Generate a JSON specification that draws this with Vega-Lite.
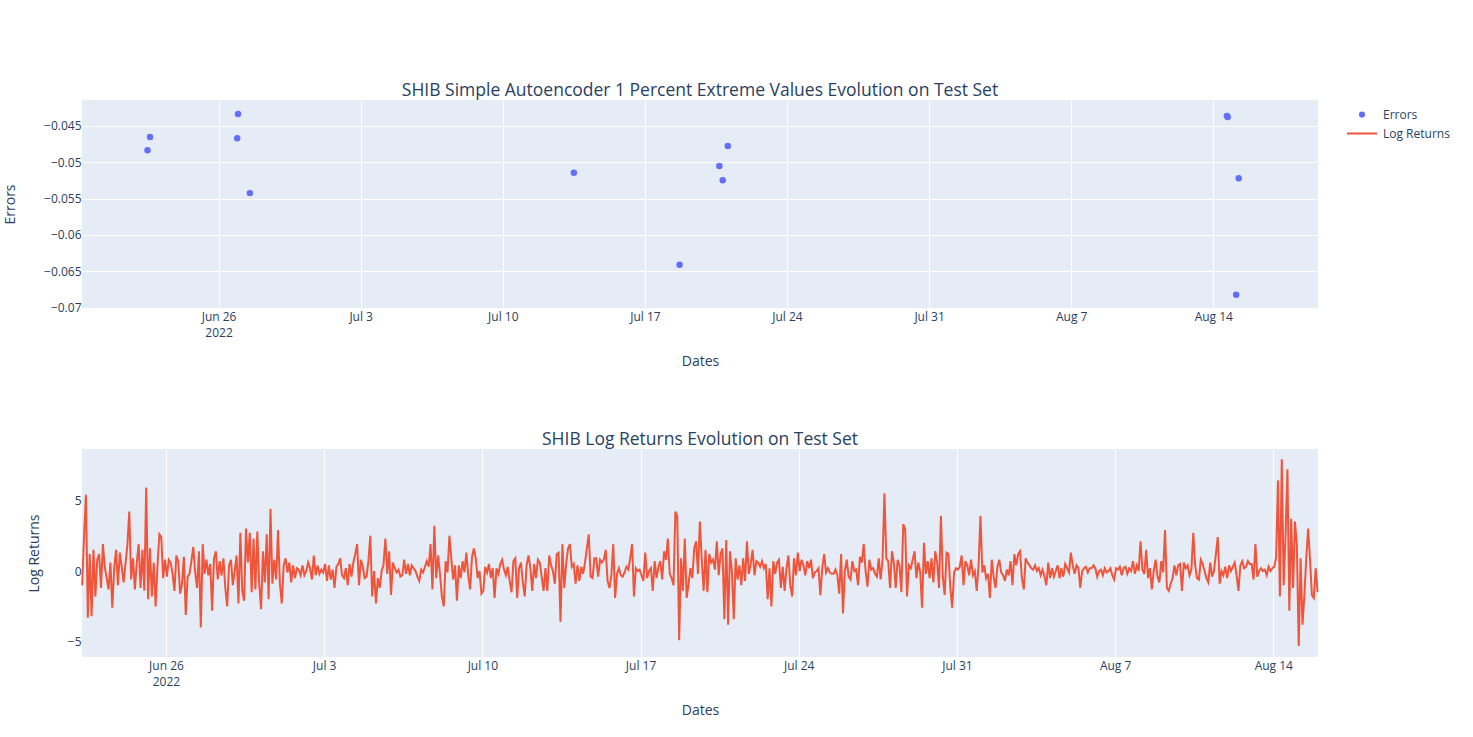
{
  "$schema": "https://vega.github.io/schema/vega-lite/v6.json",
  "background": "white",
  "padding": {"left": 3, "top": 81, "right": 5, "bottom": 5},
  "datasets": {
    "errors": [
      {"t": "2022-06-22T12:00", "v": -0.04837},
      {"t": "2022-06-22T15:00", "v": -0.04655},
      {"t": "2022-06-26T23:00", "v": -0.0434},
      {"t": "2022-06-26T22:00", "v": -0.04673},
      {"t": "2022-06-27T13:00", "v": -0.05426},
      {"t": "2022-07-13T12:00", "v": -0.05146},
      {"t": "2022-07-18T17:00", "v": -0.06409},
      {"t": "2022-07-20T16:00", "v": -0.05054},
      {"t": "2022-07-20T20:00", "v": -0.0525},
      {"t": "2022-07-21T02:00", "v": -0.04779},
      {"t": "2022-08-14T16:00", "v": -0.04365},
      {"t": "2022-08-14T17:00", "v": -0.0438},
      {"t": "2022-08-15T06:00", "v": -0.05223},
      {"t": "2022-08-15T03:00", "v": -0.06821}
    ],
    "returns": [
      {"t":"2022-06-22T07:00","v":-1.0},{"t":"2022-06-22T09:00","v":2.5},{"t":"2022-06-22T11:00","v":5.4},{"t":"2022-06-22T13:00","v":-3.3},{"t":"2022-06-22T15:00","v":1.2},{"t":"2022-06-22T17:00","v":-3.2},{"t":"2022-06-22T19:00","v":1.5},{"t":"2022-06-22T21:00","v":-1.8},{"t":"2022-06-22T23:00","v":0.8},
      {"t":"2022-06-23T01:00","v":1.2},{"t":"2022-06-23T03:00","v":-1.2},{"t":"2022-06-23T05:00","v":1.9},{"t":"2022-06-23T07:00","v":0.3},{"t":"2022-06-23T09:00","v":-0.5},{"t":"2022-06-23T11:00","v":-1.3},{"t":"2022-06-23T13:00","v":0.6},{"t":"2022-06-23T15:00","v":-2.6},{"t":"2022-06-23T17:00","v":0.2},{"t":"2022-06-23T19:00","v":1.5},{"t":"2022-06-23T21:00","v":-1.0},{"t":"2022-06-23T23:00","v":1.3},
      {"t":"2022-06-24T01:00","v":0.3},{"t":"2022-06-24T03:00","v":-0.8},{"t":"2022-06-24T05:00","v":0.5},{"t":"2022-06-24T07:00","v":1.8},{"t":"2022-06-24T09:00","v":4.2},{"t":"2022-06-24T11:00","v":-0.6},{"t":"2022-06-24T13:00","v":0.9},{"t":"2022-06-24T15:00","v":-1.3},{"t":"2022-06-24T17:00","v":0.6},{"t":"2022-06-24T19:00","v":1.9},{"t":"2022-06-24T21:00","v":-1.2},{"t":"2022-06-24T23:00","v":1.5},
      {"t":"2022-06-25T01:00","v":-1.4},{"t":"2022-06-25T03:00","v":5.9},{"t":"2022-06-25T05:00","v":-2.0},{"t":"2022-06-25T07:00","v":1.6},{"t":"2022-06-25T09:00","v":-1.8},{"t":"2022-06-25T11:00","v":0.6},{"t":"2022-06-25T13:00","v":-2.5},{"t":"2022-06-25T15:00","v":0.4},{"t":"2022-06-25T17:00","v":2.6},{"t":"2022-06-25T19:00","v":2.4},{"t":"2022-06-25T21:00","v":-0.5},{"t":"2022-06-25T23:00","v":0.8},
      {"t":"2022-06-26T01:00","v":-0.4},{"t":"2022-06-26T03:00","v":0.8},{"t":"2022-06-26T05:00","v":0.6},{"t":"2022-06-26T07:00","v":-0.2},{"t":"2022-06-26T09:00","v":-1.4},{"t":"2022-06-26T11:00","v":1.1},{"t":"2022-06-26T13:00","v":0.7},{"t":"2022-06-26T15:00","v":-1.6},{"t":"2022-06-26T17:00","v":-0.9},{"t":"2022-06-26T19:00","v":1.0},{"t":"2022-06-26T21:00","v":-3.1},{"t":"2022-06-26T23:00","v":-0.4},
      {"t":"2022-06-27T01:00","v":-0.2},{"t":"2022-06-27T03:00","v":0.7},{"t":"2022-06-27T05:00","v":1.7},{"t":"2022-06-27T07:00","v":-0.1},{"t":"2022-06-27T09:00","v":-1.2},{"t":"2022-06-27T11:00","v":1.4},{"t":"2022-06-27T13:00","v":-4.0},{"t":"2022-06-27T15:00","v":1.9},{"t":"2022-06-27T17:00","v":-0.2},{"t":"2022-06-27T19:00","v":0.8},{"t":"2022-06-27T21:00","v":-0.3},{"t":"2022-06-27T23:00","v":0.5},
      {"t":"2022-06-28T01:00","v":-2.8},{"t":"2022-06-28T03:00","v":0.9},{"t":"2022-06-28T05:00","v":1.4},{"t":"2022-06-28T07:00","v":-0.6},{"t":"2022-06-28T09:00","v":0.7},{"t":"2022-06-28T11:00","v":-0.3},{"t":"2022-06-28T13:00","v":0.9},{"t":"2022-06-28T15:00","v":-1.2},{"t":"2022-06-28T17:00","v":-2.5},{"t":"2022-06-28T19:00","v":0.4},{"t":"2022-06-28T21:00","v":0.8},{"t":"2022-06-28T23:00","v":-1.0},
      {"t":"2022-06-29T01:00","v":0.0},{"t":"2022-06-29T03:00","v":1.1},{"t":"2022-06-29T05:00","v":-2.3},{"t":"2022-06-29T07:00","v":2.7},{"t":"2022-06-29T09:00","v":-1.4},{"t":"2022-06-29T11:00","v":-2.1},{"t":"2022-06-29T13:00","v":3.0},{"t":"2022-06-29T15:00","v":0.6},{"t":"2022-06-29T17:00","v":2.7},{"t":"2022-06-29T19:00","v":-1.5},{"t":"2022-06-29T21:00","v":2.3},{"t":"2022-06-29T23:00","v":-1.3},
      {"t":"2022-06-30T01:00","v":2.8},{"t":"2022-06-30T03:00","v":-0.9},{"t":"2022-06-30T05:00","v":-2.7},{"t":"2022-06-30T07:00","v":1.4},{"t":"2022-06-30T09:00","v":-0.8},{"t":"2022-06-30T11:00","v":2.6},{"t":"2022-06-30T13:00","v":-2.0},{"t":"2022-06-30T15:00","v":4.4},{"t":"2022-06-30T17:00","v":-0.9},{"t":"2022-06-30T19:00","v":0.8},{"t":"2022-06-30T21:00","v":-0.6},{"t":"2022-06-30T23:00","v":2.9},
      {"t":"2022-07-01T01:00","v":-0.9},{"t":"2022-07-01T03:00","v":-2.3},{"t":"2022-07-01T05:00","v":0.4},{"t":"2022-07-01T07:00","v":0.9},{"t":"2022-07-01T09:00","v":-0.1},{"t":"2022-07-01T11:00","v":0.6},{"t":"2022-07-01T13:00","v":-0.8},{"t":"2022-07-01T15:00","v":0.4},{"t":"2022-07-01T17:00","v":-0.5},{"t":"2022-07-01T19:00","v":0.2},{"t":"2022-07-01T21:00","v":0.1},{"t":"2022-07-01T23:00","v":-0.3},
      {"t":"2022-07-02T01:00","v":0.4},{"t":"2022-07-02T03:00","v":-0.3},{"t":"2022-07-02T05:00","v":0.0},{"t":"2022-07-02T07:00","v":0.6},{"t":"2022-07-02T09:00","v":0.2},{"t":"2022-07-02T11:00","v":-0.6},{"t":"2022-07-02T13:00","v":1.1},{"t":"2022-07-02T15:00","v":-0.3},{"t":"2022-07-02T17:00","v":0.4},{"t":"2022-07-02T19:00","v":-0.2},{"t":"2022-07-02T21:00","v":0.1},{"t":"2022-07-02T23:00","v":-0.1},
      {"t":"2022-07-03T01:00","v":0.5},{"t":"2022-07-03T03:00","v":-0.7},{"t":"2022-07-03T05:00","v":0.4},{"t":"2022-07-03T07:00","v":-0.6},{"t":"2022-07-03T09:00","v":0.1},{"t":"2022-07-03T11:00","v":-1.2},{"t":"2022-07-03T13:00","v":0.3},{"t":"2022-07-03T15:00","v":0.5},{"t":"2022-07-03T17:00","v":0.9},{"t":"2022-07-03T19:00","v":-0.3},{"t":"2022-07-03T21:00","v":-0.5},{"t":"2022-07-03T23:00","v":0.2},
      {"t":"2022-07-04T01:00","v":-1.0},{"t":"2022-07-04T03:00","v":0.5},{"t":"2022-07-04T05:00","v":-0.4},{"t":"2022-07-04T07:00","v":0.6},{"t":"2022-07-04T09:00","v":1.2},{"t":"2022-07-04T11:00","v":1.9},{"t":"2022-07-04T13:00","v":-1.0},{"t":"2022-07-04T15:00","v":0.8},{"t":"2022-07-04T17:00","v":0.3},{"t":"2022-07-04T19:00","v":-0.5},{"t":"2022-07-04T21:00","v":-0.4},{"t":"2022-07-04T23:00","v":0.7},
      {"t":"2022-07-05T01:00","v":2.5},{"t":"2022-07-05T03:00","v":-1.8},{"t":"2022-07-05T05:00","v":0.0},{"t":"2022-07-05T07:00","v":-2.3},{"t":"2022-07-05T09:00","v":-0.5},{"t":"2022-07-05T11:00","v":-1.2},{"t":"2022-07-05T13:00","v":0.0},{"t":"2022-07-05T15:00","v":0.4},{"t":"2022-07-05T17:00","v":2.3},{"t":"2022-07-05T19:00","v":-0.2},{"t":"2022-07-05T21:00","v":1.4},{"t":"2022-07-05T23:00","v":-1.7},
      {"t":"2022-07-06T01:00","v":0.6},{"t":"2022-07-06T03:00","v":0.2},{"t":"2022-07-06T05:00","v":-0.1},{"t":"2022-07-06T07:00","v":0.1},{"t":"2022-07-06T09:00","v":-0.4},{"t":"2022-07-06T11:00","v":-0.3},{"t":"2022-07-06T13:00","v":0.8},{"t":"2022-07-06T15:00","v":-0.2},{"t":"2022-07-06T17:00","v":0.5},{"t":"2022-07-06T19:00","v":-0.3},{"t":"2022-07-06T21:00","v":0.4},{"t":"2022-07-06T23:00","v":0.2},
      {"t":"2022-07-07T01:00","v":0.0},{"t":"2022-07-07T03:00","v":-0.4},{"t":"2022-07-07T05:00","v":-0.7},{"t":"2022-07-07T07:00","v":0.1},{"t":"2022-07-07T09:00","v":-0.1},{"t":"2022-07-07T11:00","v":0.3},{"t":"2022-07-07T13:00","v":0.7},{"t":"2022-07-07T15:00","v":0.3},{"t":"2022-07-07T17:00","v":1.9},{"t":"2022-07-07T19:00","v":-1.3},{"t":"2022-07-07T21:00","v":3.2},{"t":"2022-07-07T23:00","v":-0.5},
      {"t":"2022-07-08T01:00","v":1.1},{"t":"2022-07-08T03:00","v":-0.2},{"t":"2022-07-08T05:00","v":-1.8},{"t":"2022-07-08T07:00","v":-2.5},{"t":"2022-07-08T09:00","v":0.7},{"t":"2022-07-08T11:00","v":-0.1},{"t":"2022-07-08T13:00","v":2.5},{"t":"2022-07-08T15:00","v":0.9},{"t":"2022-07-08T17:00","v":-0.6},{"t":"2022-07-08T19:00","v":0.4},{"t":"2022-07-08T21:00","v":-2.1},{"t":"2022-07-08T23:00","v":0.4},
      {"t":"2022-07-09T01:00","v":-0.5},{"t":"2022-07-09T03:00","v":0.7},{"t":"2022-07-09T05:00","v":-0.1},{"t":"2022-07-09T07:00","v":1.3},{"t":"2022-07-09T09:00","v":-0.3},{"t":"2022-07-09T11:00","v":-1.3},{"t":"2022-07-09T13:00","v":1.0},{"t":"2022-07-09T15:00","v":1.6},{"t":"2022-07-09T17:00","v":0.9},{"t":"2022-07-09T19:00","v":-0.5},{"t":"2022-07-09T21:00","v":0.0},{"t":"2022-07-09T23:00","v":-1.6},
      {"t":"2022-07-10T01:00","v":-1.4},{"t":"2022-07-10T03:00","v":0.3},{"t":"2022-07-10T05:00","v":-0.1},{"t":"2022-07-10T07:00","v":0.5},{"t":"2022-07-10T09:00","v":-0.5},{"t":"2022-07-10T11:00","v":0.2},{"t":"2022-07-10T13:00","v":-1.9},{"t":"2022-07-10T15:00","v":0.2},{"t":"2022-07-10T17:00","v":-0.2},{"t":"2022-07-10T19:00","v":0.5},{"t":"2022-07-10T21:00","v":0.8},{"t":"2022-07-10T23:00","v":0.1},
      {"t":"2022-07-11T01:00","v":-0.3},{"t":"2022-07-11T03:00","v":0.3},{"t":"2022-07-11T05:00","v":-0.7},{"t":"2022-07-11T07:00","v":-1.5},{"t":"2022-07-11T09:00","v":0.7},{"t":"2022-07-11T11:00","v":0.9},{"t":"2022-07-11T13:00","v":-1.9},{"t":"2022-07-11T15:00","v":0.2},{"t":"2022-07-11T17:00","v":0.6},{"t":"2022-07-11T19:00","v":-0.8},{"t":"2022-07-11T21:00","v":-1.8},{"t":"2022-07-11T23:00","v":0.4},
      {"t":"2022-07-12T01:00","v":1.1},{"t":"2022-07-12T03:00","v":0.2},{"t":"2022-07-12T05:00","v":-1.4},{"t":"2022-07-12T07:00","v":0.5},{"t":"2022-07-12T09:00","v":-0.5},{"t":"2022-07-12T11:00","v":0.8},{"t":"2022-07-12T13:00","v":0.6},{"t":"2022-07-12T15:00","v":-0.4},{"t":"2022-07-12T17:00","v":-1.4},{"t":"2022-07-12T19:00","v":0.2},{"t":"2022-07-12T21:00","v":-1.4},{"t":"2022-07-12T23:00","v":1.1},
      {"t":"2022-07-13T01:00","v":0.4},{"t":"2022-07-13T03:00","v":0.0},{"t":"2022-07-13T05:00","v":-0.9},{"t":"2022-07-13T07:00","v":1.2},{"t":"2022-07-13T09:00","v":1.3},{"t":"2022-07-13T11:00","v":-3.6},{"t":"2022-07-13T13:00","v":1.9},{"t":"2022-07-13T15:00","v":-1.2},{"t":"2022-07-13T17:00","v":0.5},{"t":"2022-07-13T19:00","v":1.6},{"t":"2022-07-13T21:00","v":1.9},{"t":"2022-07-13T23:00","v":0.3},
      {"t":"2022-07-14T01:00","v":0.5},{"t":"2022-07-14T03:00","v":-0.9},{"t":"2022-07-14T05:00","v":0.4},{"t":"2022-07-14T07:00","v":-0.7},{"t":"2022-07-14T09:00","v":0.3},{"t":"2022-07-14T11:00","v":-0.2},{"t":"2022-07-14T13:00","v":0.6},{"t":"2022-07-14T15:00","v":1.6},{"t":"2022-07-14T17:00","v":2.6},{"t":"2022-07-14T19:00","v":-0.4},{"t":"2022-07-14T21:00","v":-0.5},{"t":"2022-07-14T23:00","v":0.9},
      {"t":"2022-07-15T01:00","v":0.9},{"t":"2022-07-15T03:00","v":-0.4},{"t":"2022-07-15T05:00","v":0.8},{"t":"2022-07-15T07:00","v":0.6},{"t":"2022-07-15T09:00","v":0.8},{"t":"2022-07-15T11:00","v":1.5},{"t":"2022-07-15T13:00","v":-0.7},{"t":"2022-07-15T15:00","v":-1.2},{"t":"2022-07-15T17:00","v":-0.3},{"t":"2022-07-15T19:00","v":1.9},{"t":"2022-07-15T21:00","v":-1.9},{"t":"2022-07-15T23:00","v":-0.2},
      {"t":"2022-07-16T01:00","v":0.2},{"t":"2022-07-16T03:00","v":-0.3},{"t":"2022-07-16T05:00","v":-0.4},{"t":"2022-07-16T07:00","v":-0.1},{"t":"2022-07-16T09:00","v":0.3},{"t":"2022-07-16T11:00","v":0.1},{"t":"2022-07-16T13:00","v":0.9},{"t":"2022-07-16T15:00","v":1.9},{"t":"2022-07-16T17:00","v":-1.8},{"t":"2022-07-16T19:00","v":0.2},{"t":"2022-07-16T21:00","v":0.0},{"t":"2022-07-16T23:00","v":0.1},
      {"t":"2022-07-17T01:00","v":-0.3},{"t":"2022-07-17T03:00","v":-0.7},{"t":"2022-07-17T05:00","v":1.3},{"t":"2022-07-17T07:00","v":-0.5},{"t":"2022-07-17T09:00","v":0.0},{"t":"2022-07-17T11:00","v":0.2},{"t":"2022-07-17T13:00","v":-1.4},{"t":"2022-07-17T15:00","v":0.7},{"t":"2022-07-17T17:00","v":-0.5},{"t":"2022-07-17T19:00","v":0.3},{"t":"2022-07-17T21:00","v":0.7},{"t":"2022-07-17T23:00","v":-0.6},
      {"t":"2022-07-18T01:00","v":1.4},{"t":"2022-07-18T03:00","v":0.8},{"t":"2022-07-18T05:00","v":2.3},{"t":"2022-07-18T07:00","v":-0.2},{"t":"2022-07-18T09:00","v":-0.5},{"t":"2022-07-18T11:00","v":-1.0},{"t":"2022-07-18T13:00","v":4.2},{"t":"2022-07-18T15:00","v":3.9},{"t":"2022-07-18T17:00","v":-4.9},{"t":"2022-07-18T19:00","v":0.9},{"t":"2022-07-18T21:00","v":-1.4},{"t":"2022-07-18T23:00","v":2.3},
      {"t":"2022-07-19T01:00","v":-1.9},{"t":"2022-07-19T03:00","v":-0.9},{"t":"2022-07-19T05:00","v":0.2},{"t":"2022-07-19T07:00","v":-0.5},{"t":"2022-07-19T09:00","v":1.6},{"t":"2022-07-19T11:00","v":2.1},{"t":"2022-07-19T13:00","v":-0.2},{"t":"2022-07-19T15:00","v":3.5},{"t":"2022-07-19T17:00","v":0.8},{"t":"2022-07-19T19:00","v":-1.4},{"t":"2022-07-19T21:00","v":1.5},{"t":"2022-07-19T23:00","v":-1.5},
      {"t":"2022-07-20T01:00","v":1.2},{"t":"2022-07-20T03:00","v":0.6},{"t":"2022-07-20T05:00","v":0.8},{"t":"2022-07-20T07:00","v":0.1},{"t":"2022-07-20T09:00","v":2.1},{"t":"2022-07-20T11:00","v":-0.3},{"t":"2022-07-20T13:00","v":1.2},{"t":"2022-07-20T15:00","v":1.6},{"t":"2022-07-20T17:00","v":-3.4},{"t":"2022-07-20T19:00","v":2.2},{"t":"2022-07-20T21:00","v":-3.8},{"t":"2022-07-20T23:00","v":1.4},
      {"t":"2022-07-21T01:00","v":0.0},{"t":"2022-07-21T03:00","v":-3.4},{"t":"2022-07-21T05:00","v":0.9},{"t":"2022-07-21T07:00","v":-0.6},{"t":"2022-07-21T09:00","v":0.4},{"t":"2022-07-21T11:00","v":-1.0},{"t":"2022-07-21T13:00","v":0.9},{"t":"2022-07-21T15:00","v":-0.7},{"t":"2022-07-21T17:00","v":2.1},{"t":"2022-07-21T19:00","v":-0.2},{"t":"2022-07-21T21:00","v":0.5},{"t":"2022-07-21T23:00","v":1.5},
      {"t":"2022-07-22T01:00","v":-0.3},{"t":"2022-07-22T03:00","v":0.7},{"t":"2022-07-22T05:00","v":0.6},{"t":"2022-07-22T07:00","v":0.3},{"t":"2022-07-22T09:00","v":0.7},{"t":"2022-07-22T11:00","v":0.2},{"t":"2022-07-22T13:00","v":0.5},{"t":"2022-07-22T15:00","v":-2.0},{"t":"2022-07-22T17:00","v":0.2},{"t":"2022-07-22T19:00","v":-2.5},{"t":"2022-07-22T21:00","v":0.7},{"t":"2022-07-22T23:00","v":-0.2},
      {"t":"2022-07-23T01:00","v":0.6},{"t":"2022-07-23T03:00","v":0.8},{"t":"2022-07-23T05:00","v":-1.2},{"t":"2022-07-23T07:00","v":0.3},{"t":"2022-07-23T09:00","v":-1.4},{"t":"2022-07-23T11:00","v":0.2},{"t":"2022-07-23T13:00","v":1.1},{"t":"2022-07-23T15:00","v":-1.0},{"t":"2022-07-23T17:00","v":-1.8},{"t":"2022-07-23T19:00","v":0.9},{"t":"2022-07-23T21:00","v":-0.3},{"t":"2022-07-23T23:00","v":1.3},
      {"t":"2022-07-24T01:00","v":0.0},{"t":"2022-07-24T03:00","v":0.8},{"t":"2022-07-24T05:00","v":0.4},{"t":"2022-07-24T07:00","v":-0.3},{"t":"2022-07-24T09:00","v":0.7},{"t":"2022-07-24T11:00","v":0.2},{"t":"2022-07-24T13:00","v":0.8},{"t":"2022-07-24T15:00","v":-0.5},{"t":"2022-07-24T17:00","v":-0.1},{"t":"2022-07-24T19:00","v":0.0},{"t":"2022-07-24T21:00","v":0.2},{"t":"2022-07-24T23:00","v":-1.7},
      {"t":"2022-07-25T01:00","v":0.2},{"t":"2022-07-25T03:00","v":1.2},{"t":"2022-07-25T05:00","v":-0.1},{"t":"2022-07-25T07:00","v":0.2},{"t":"2022-07-25T09:00","v":-0.1},{"t":"2022-07-25T11:00","v":-0.2},{"t":"2022-07-25T13:00","v":-0.2},{"t":"2022-07-25T15:00","v":0.1},{"t":"2022-07-25T17:00","v":-0.3},{"t":"2022-07-25T19:00","v":-1.6},{"t":"2022-07-25T21:00","v":1.2},{"t":"2022-07-25T23:00","v":-3.0},
      {"t":"2022-07-26T01:00","v":0.0},{"t":"2022-07-26T03:00","v":0.8},{"t":"2022-07-26T05:00","v":-0.4},{"t":"2022-07-26T07:00","v":-0.6},{"t":"2022-07-26T09:00","v":0.7},{"t":"2022-07-26T11:00","v":0.0},{"t":"2022-07-26T13:00","v":0.1},{"t":"2022-07-26T15:00","v":-1.0},{"t":"2022-07-26T17:00","v":1.0},{"t":"2022-07-26T19:00","v":0.6},{"t":"2022-07-26T21:00","v":1.9},{"t":"2022-07-26T23:00","v":0.0},
      {"t":"2022-07-27T01:00","v":-1.1},{"t":"2022-07-27T03:00","v":0.8},{"t":"2022-07-27T05:00","v":0.1},{"t":"2022-07-27T07:00","v":0.2},{"t":"2022-07-27T09:00","v":-0.2},{"t":"2022-07-27T11:00","v":-0.4},{"t":"2022-07-27T13:00","v":0.9},{"t":"2022-07-27T15:00","v":-0.6},{"t":"2022-07-27T17:00","v":0.8},{"t":"2022-07-27T19:00","v":5.5},{"t":"2022-07-27T21:00","v":0.9},{"t":"2022-07-27T23:00","v":0.7},
      {"t":"2022-07-28T01:00","v":-1.2},{"t":"2022-07-28T03:00","v":1.4},{"t":"2022-07-28T05:00","v":0.6},{"t":"2022-07-28T07:00","v":-1.2},{"t":"2022-07-28T09:00","v":0.8},{"t":"2022-07-28T11:00","v":0.4},{"t":"2022-07-28T13:00","v":-1.5},{"t":"2022-07-28T15:00","v":3.3},{"t":"2022-07-28T17:00","v":3.0},{"t":"2022-07-28T19:00","v":-1.8},{"t":"2022-07-28T21:00","v":0.4},{"t":"2022-07-28T23:00","v":0.2},
      {"t":"2022-07-29T01:00","v":0.8},{"t":"2022-07-29T03:00","v":1.4},{"t":"2022-07-29T05:00","v":-0.5},{"t":"2022-07-29T07:00","v":0.6},{"t":"2022-07-29T09:00","v":-0.1},{"t":"2022-07-29T11:00","v":-2.6},{"t":"2022-07-29T13:00","v":2.0},{"t":"2022-07-29T15:00","v":-0.2},{"t":"2022-07-29T17:00","v":0.7},{"t":"2022-07-29T19:00","v":-0.5},{"t":"2022-07-29T21:00","v":0.9},{"t":"2022-07-29T23:00","v":-0.8},
      {"t":"2022-07-30T01:00","v":1.4},{"t":"2022-07-30T03:00","v":0.6},{"t":"2022-07-30T05:00","v":-1.2},{"t":"2022-07-30T07:00","v":3.9},{"t":"2022-07-30T09:00","v":-0.4},{"t":"2022-07-30T11:00","v":-1.7},{"t":"2022-07-30T13:00","v":1.3},{"t":"2022-07-30T15:00","v":1.2},{"t":"2022-07-30T17:00","v":-1.2},{"t":"2022-07-30T19:00","v":-2.6},{"t":"2022-07-30T21:00","v":-0.1},{"t":"2022-07-30T23:00","v":0.2},
      {"t":"2022-07-31T01:00","v":0.1},{"t":"2022-07-31T03:00","v":0.3},{"t":"2022-07-31T05:00","v":1.1},{"t":"2022-07-31T07:00","v":-1.0},{"t":"2022-07-31T09:00","v":0.7},{"t":"2022-07-31T11:00","v":0.4},{"t":"2022-07-31T13:00","v":-0.3},{"t":"2022-07-31T15:00","v":0.8},{"t":"2022-07-31T17:00","v":-0.3},{"t":"2022-07-31T19:00","v":0.0},{"t":"2022-07-31T21:00","v":-1.4},{"t":"2022-07-31T23:00","v":0.4},
      {"t":"2022-08-01T01:00","v":3.9},{"t":"2022-08-01T03:00","v":-0.1},{"t":"2022-08-01T05:00","v":0.4},{"t":"2022-08-01T07:00","v":-0.5},{"t":"2022-08-01T09:00","v":-0.2},{"t":"2022-08-01T11:00","v":-1.9},{"t":"2022-08-01T13:00","v":0.8},{"t":"2022-08-01T15:00","v":-0.4},{"t":"2022-08-01T17:00","v":-1.2},{"t":"2022-08-01T19:00","v":0.3},{"t":"2022-08-01T21:00","v":0.8},{"t":"2022-08-01T23:00","v":-0.1},
      {"t":"2022-08-02T01:00","v":-0.3},{"t":"2022-08-02T03:00","v":-0.7},{"t":"2022-08-02T05:00","v":0.1},{"t":"2022-08-02T07:00","v":-0.3},{"t":"2022-08-02T09:00","v":0.7},{"t":"2022-08-02T11:00","v":-1.0},{"t":"2022-08-02T13:00","v":1.2},{"t":"2022-08-02T15:00","v":0.4},{"t":"2022-08-02T17:00","v":1.2},{"t":"2022-08-02T19:00","v":1.4},{"t":"2022-08-02T21:00","v":-0.5},{"t":"2022-08-02T23:00","v":-1.3},
      {"t":"2022-08-03T01:00","v":0.9},{"t":"2022-08-03T03:00","v":0.6},{"t":"2022-08-03T05:00","v":0.4},{"t":"2022-08-03T07:00","v":0.2},{"t":"2022-08-03T09:00","v":0.1},{"t":"2022-08-03T11:00","v":0.4},{"t":"2022-08-03T13:00","v":0.0},{"t":"2022-08-03T15:00","v":0.2},{"t":"2022-08-03T17:00","v":-0.3},{"t":"2022-08-03T19:00","v":0.1},{"t":"2022-08-03T21:00","v":-0.4},{"t":"2022-08-03T23:00","v":-1.0},
      {"t":"2022-08-04T01:00","v":0.6},{"t":"2022-08-04T03:00","v":-0.5},{"t":"2022-08-04T05:00","v":0.2},{"t":"2022-08-04T07:00","v":-0.4},{"t":"2022-08-04T09:00","v":0.0},{"t":"2022-08-04T11:00","v":0.4},{"t":"2022-08-04T13:00","v":-0.5},{"t":"2022-08-04T15:00","v":0.2},{"t":"2022-08-04T17:00","v":-0.4},{"t":"2022-08-04T19:00","v":0.5},{"t":"2022-08-04T21:00","v":0.2},{"t":"2022-08-04T23:00","v":-0.1},
      {"t":"2022-08-05T01:00","v":1.3},{"t":"2022-08-05T03:00","v":0.4},{"t":"2022-08-05T05:00","v":-0.2},{"t":"2022-08-05T07:00","v":0.4},{"t":"2022-08-05T09:00","v":0.2},{"t":"2022-08-05T11:00","v":-1.2},{"t":"2022-08-05T13:00","v":0.0},{"t":"2022-08-05T15:00","v":0.2},{"t":"2022-08-05T17:00","v":0.3},{"t":"2022-08-05T19:00","v":-0.1},{"t":"2022-08-05T21:00","v":0.2},{"t":"2022-08-05T23:00","v":0.2},
      {"t":"2022-08-06T01:00","v":0.4},{"t":"2022-08-06T03:00","v":0.2},{"t":"2022-08-06T05:00","v":-0.4},{"t":"2022-08-06T07:00","v":0.0},{"t":"2022-08-06T09:00","v":0.1},{"t":"2022-08-06T11:00","v":-0.3},{"t":"2022-08-06T13:00","v":0.2},{"t":"2022-08-06T15:00","v":-0.1},{"t":"2022-08-06T17:00","v":0.0},{"t":"2022-08-06T19:00","v":0.2},{"t":"2022-08-06T21:00","v":-0.3},{"t":"2022-08-06T23:00","v":-0.6},
      {"t":"2022-08-07T01:00","v":0.2},{"t":"2022-08-07T03:00","v":0.1},{"t":"2022-08-07T05:00","v":0.3},{"t":"2022-08-07T07:00","v":-0.3},{"t":"2022-08-07T09:00","v":0.2},{"t":"2022-08-07T11:00","v":0.3},{"t":"2022-08-07T13:00","v":-0.2},{"t":"2022-08-07T15:00","v":0.2},{"t":"2022-08-07T17:00","v":0.0},{"t":"2022-08-07T19:00","v":0.7},{"t":"2022-08-07T21:00","v":-0.2},{"t":"2022-08-07T23:00","v":0.4},
      {"t":"2022-08-08T01:00","v":0.0},{"t":"2022-08-08T03:00","v":2.1},{"t":"2022-08-08T05:00","v":0.1},{"t":"2022-08-08T07:00","v":-0.2},{"t":"2022-08-08T09:00","v":1.5},{"t":"2022-08-08T11:00","v":-0.5},{"t":"2022-08-08T13:00","v":0.2},{"t":"2022-08-08T15:00","v":-1.3},{"t":"2022-08-08T17:00","v":0.0},{"t":"2022-08-08T19:00","v":0.8},{"t":"2022-08-08T21:00","v":-0.4},{"t":"2022-08-08T23:00","v":-0.8},
      {"t":"2022-08-09T01:00","v":0.7},{"t":"2022-08-09T03:00","v":-0.1},{"t":"2022-08-09T05:00","v":2.9},{"t":"2022-08-09T07:00","v":-1.2},{"t":"2022-08-09T09:00","v":-1.4},{"t":"2022-08-09T11:00","v":-0.9},{"t":"2022-08-09T13:00","v":-0.5},{"t":"2022-08-09T15:00","v":0.4},{"t":"2022-08-09T17:00","v":-0.3},{"t":"2022-08-09T19:00","v":0.4},{"t":"2022-08-09T21:00","v":0.5},{"t":"2022-08-09T23:00","v":-1.4},
      {"t":"2022-08-10T01:00","v":0.6},{"t":"2022-08-10T03:00","v":0.2},{"t":"2022-08-10T05:00","v":0.4},{"t":"2022-08-10T07:00","v":-0.3},{"t":"2022-08-10T09:00","v":0.1},{"t":"2022-08-10T11:00","v":2.7},{"t":"2022-08-10T13:00","v":0.4},{"t":"2022-08-10T15:00","v":-0.5},{"t":"2022-08-10T17:00","v":-0.6},{"t":"2022-08-10T19:00","v":0.8},{"t":"2022-08-10T21:00","v":0.5},{"t":"2022-08-10T23:00","v":0.0},
      {"t":"2022-08-11T01:00","v":-0.5},{"t":"2022-08-11T03:00","v":-0.8},{"t":"2022-08-11T05:00","v":0.6},{"t":"2022-08-11T07:00","v":-0.4},{"t":"2022-08-11T09:00","v":0.0},{"t":"2022-08-11T11:00","v":1.2},{"t":"2022-08-11T13:00","v":2.4},{"t":"2022-08-11T15:00","v":-0.9},{"t":"2022-08-11T17:00","v":0.0},{"t":"2022-08-11T19:00","v":-0.3},{"t":"2022-08-11T21:00","v":0.3},{"t":"2022-08-11T23:00","v":-0.5},
      {"t":"2022-08-12T01:00","v":0.4},{"t":"2022-08-12T03:00","v":0.0},{"t":"2022-08-12T05:00","v":0.3},{"t":"2022-08-12T07:00","v":0.6},{"t":"2022-08-12T09:00","v":-0.3},{"t":"2022-08-12T11:00","v":-1.4},{"t":"2022-08-12T13:00","v":0.4},{"t":"2022-08-12T15:00","v":0.7},{"t":"2022-08-12T17:00","v":0.2},{"t":"2022-08-12T19:00","v":0.3},{"t":"2022-08-12T21:00","v":0.7},{"t":"2022-08-12T23:00","v":0.5},
      {"t":"2022-08-13T01:00","v":0.5},{"t":"2022-08-13T03:00","v":-0.6},{"t":"2022-08-13T05:00","v":1.9},{"t":"2022-08-13T07:00","v":-0.4},{"t":"2022-08-13T09:00","v":0.0},{"t":"2022-08-13T11:00","v":0.2},{"t":"2022-08-13T13:00","v":0.0},{"t":"2022-08-13T15:00","v":0.1},{"t":"2022-08-13T17:00","v":-0.3},{"t":"2022-08-13T19:00","v":0.3},{"t":"2022-08-13T21:00","v":0.0},{"t":"2022-08-13T23:00","v":0.2},
      {"t":"2022-08-14T01:00","v":0.3},{"t":"2022-08-14T03:00","v":1.0},{"t":"2022-08-14T05:00","v":6.4},{"t":"2022-08-14T07:00","v":-1.8},{"t":"2022-08-14T09:00","v":7.9},{"t":"2022-08-14T11:00","v":-1.0},{"t":"2022-08-14T13:00","v":2.5},{"t":"2022-08-14T15:00","v":7.2},{"t":"2022-08-14T17:00","v":-2.8},{"t":"2022-08-14T19:00","v":3.7},{"t":"2022-08-14T21:00","v":-1.2},{"t":"2022-08-14T23:00","v":3.5},
      {"t":"2022-08-15T01:00","v":1.8},{"t":"2022-08-15T03:00","v":-5.3},{"t":"2022-08-15T05:00","v":0.9},{"t":"2022-08-15T07:00","v":-3.8},{"t":"2022-08-15T09:00","v":-1.7},{"t":"2022-08-15T11:00","v":0.9},{"t":"2022-08-15T13:00","v":3.0},{"t":"2022-08-15T15:00","v":0.8},{"t":"2022-08-15T17:00","v":-1.7},{"t":"2022-08-15T19:00","v":-1.9},{"t":"2022-08-15T21:00","v":0.2},{"t":"2022-08-15T23:00","v":-1.5}
    ]
  },
  "config": {
    "font": "Open Sans",
    "view": {"fill": "#E5ECF6", "stroke": null},
    "axis": {
      "domain": false,
      "ticks": false,
      "tickSize": 0,
      "gridColor": "#ffffff",
      "gridWidth": 1,
      "gridOpacity": 1,
      "labelColor": "#2a3f5f",
      "labelFontSize": 12,
      "labelPadding": 3,
      "titleColor": "#2a3f5f",
      "titleFontSize": 14,
      "titleFontWeight": "normal"
    },
    "axisX": {"labelLineHeight": 16, "titlePadding": 16},
    "axisY": {"labelPadding": 1, "titlePadding": 26},
    "title": {"fontSize": 17.5, "fontWeight": "normal", "color": "#2a3f5f", "offset": 1, "anchor": "middle"},
    "legend": {
      "orient": "right",
      "offset": 19,
      "padding": 5,
      "labelColor": "#2a3f5f",
      "labelFontSize": 12,
      "labelOffset": 5,
      "clipHeight": 19,
      "rowPadding": 0
    },
    "concat": {"spacing": 62}
  },
  "vconcat": [
    {
      "title": "SHIB Simple Autoencoder 1 Percent Extreme Values Evolution on Test Set",
      "width": 1236,
      "height": 208,
      "data": {"name": "errors"},
      "mark": {"type": "point", "filled": true, "size": 42, "opacity": 1},
      "encoding": {
        "x": {
          "field": "t",
          "type": "temporal",
          "title": "Dates",
          "scale": {"domain": [
            {"year": 2022, "month": 6, "date": 19, "hours": 6, "minutes": 33},
            {"year": 2022, "month": 8, "date": 19, "hours": 3, "minutes": 45}
          ]},
          "axis": {
            "values": [
              {"year": 2022, "month": 6, "date": 26}, {"year": 2022, "month": 7, "date": 3},
              {"year": 2022, "month": 7, "date": 10}, {"year": 2022, "month": 7, "date": 17},
              {"year": 2022, "month": 7, "date": 24}, {"year": 2022, "month": 7, "date": 31},
              {"year": 2022, "month": 8, "date": 7}, {"year": 2022, "month": 8, "date": 14}
            ],
            "labelExpr": "month(datum.value) == 5 && date(datum.value) == 26 ? ['Jun 26', '2022'] : timeFormat(datum.value, '%b %-d')"
          }
        },
        "y": {
          "field": "v",
          "type": "quantitative",
          "title": "Errors",
          "scale": {"domain": [-0.07004, -0.04147], "nice": false, "zero": false},
          "axis": {"values": [-0.07, -0.065, -0.06, -0.055, -0.05, -0.045], "format": "~g"}
        },
        "color": {
          "datum": "Errors",
          "type": "nominal",
          "scale": {"domain": ["Errors", "Log Returns"], "range": ["#636efa", "#EF553B"]},
          "legend": {
            "title": null,
            "symbolType": {"expr": "datum.value === 'Errors' ? 'M-0.14,0A0.14,0.14,0,1,0,0.14,0A0.14,0.14,0,1,0,-0.14,0Z' : 'stroke'"},
            "symbolSize": 900,
            "symbolStrokeWidth": 2,
            "symbolOpacity": 1,
            "symbolFillColor": {"expr": "datum.value === 'Errors' ? '#636efa' : 'transparent'"},
            "symbolStrokeColor": {"expr": "datum.value === 'Errors' ? '#636efa' : '#EF553B'"}
          }
        }
      }
    },
    {
      "title": "SHIB Log Returns Evolution on Test Set",
      "width": 1236,
      "height": 208,
      "layer": [
        {
          "mark": {"type": "rule", "color": "#ffffff", "strokeWidth": 2},
          "encoding": {"y": {"datum": 0, "type": "quantitative"}}
        },
        {
          "data": {"name": "returns"},
          "mark": {"type": "line", "strokeWidth": 2},
          "encoding": {
            "x": {
              "field": "t",
              "type": "temporal",
              "title": "Dates",
              "scale": {"domain": [
                {"year": 2022, "month": 6, "date": 22, "hours": 6, "minutes": 49},
                {"year": 2022, "month": 8, "date": 15, "hours": 23, "minutes": 28}
              ]},
              "axis": {
                "values": [
                  {"year": 2022, "month": 6, "date": 26}, {"year": 2022, "month": 7, "date": 3},
                  {"year": 2022, "month": 7, "date": 10}, {"year": 2022, "month": 7, "date": 17},
                  {"year": 2022, "month": 7, "date": 24}, {"year": 2022, "month": 7, "date": 31},
                  {"year": 2022, "month": 8, "date": 7}, {"year": 2022, "month": 8, "date": 14}
                ],
                "labelExpr": "month(datum.value) == 5 && date(datum.value) == 26 ? ['Jun 26', '2022'] : timeFormat(datum.value, '%b %-d')"
              }
            },
            "y": {
              "field": "v",
              "type": "quantitative",
              "title": "Log Returns",
              "scale": {"domain": [-6.08, 8.63], "nice": false, "zero": false},
              "axis": {"values": [-5, 0, 5], "format": "d"}
            },
            "color": {"datum": "Log Returns", "type": "nominal"}
          }
        }
      ]
    }
  ]
}
